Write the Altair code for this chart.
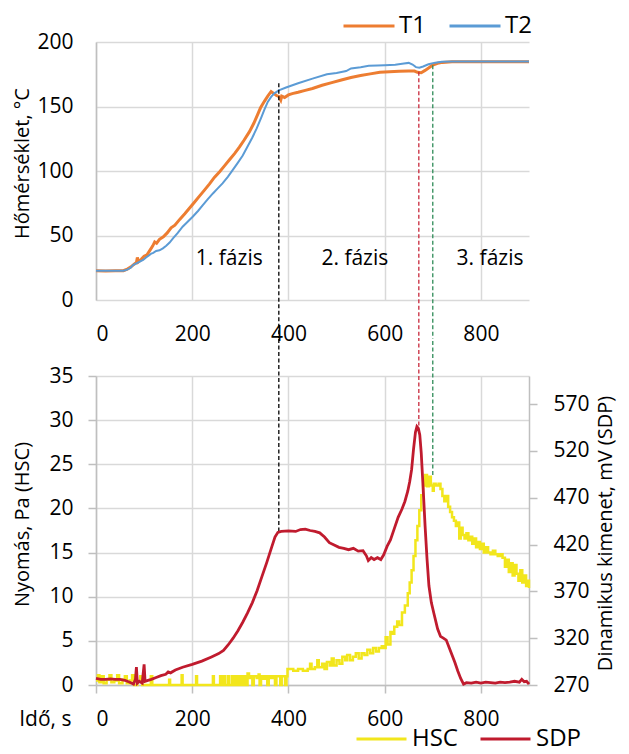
import altair as alt
import pandas as pd

# ---------------- data ----------------
t1_time = [0, 20, 40, 57, 65, 72, 80, 84, 86, 88, 94, 100, 106, 112, 118, 122, 126, 132, 140, 148, 156,
           164, 174, 185, 195, 205, 215, 225, 236, 246, 257, 267, 277, 288, 298, 308, 319, 328, 335,
           342, 350, 357, 364, 370, 375, 380, 384, 386, 392, 400, 408, 420, 435, 450, 470, 490, 510,
           530, 550, 570, 590, 610, 630, 650, 662, 668, 676, 684, 692, 700, 710, 720, 740, 900]
t1_temp = [22.7, 22.5, 22.6, 22.7, 24, 25.5, 28, 29, 33, 29.5, 31.5, 34, 35, 38.5, 42, 45, 44, 47, 49, 52,
           56, 58, 62.5, 67, 71.5, 76, 80.5, 85, 90, 95, 99.5, 104, 108.5, 113.5, 118.5, 124, 130.5, 137,
           143, 149, 154, 158, 161.5, 160, 158.5, 157.8, 155, 158, 157, 159, 160, 161, 162.5, 164, 166.5,
           168.5, 170.5, 172.5, 174, 175.3, 176.5, 177, 177.3, 177.6, 177.5, 176.5, 176.2, 178, 180,
           182.2, 183.5, 184.2, 184.6, 184.6]

t2_time = [0, 57, 65, 72, 77, 85, 92, 98, 104, 110, 115, 119, 125, 132, 139, 146, 153, 160, 170, 180,
           190, 201, 212, 222, 232, 243, 253, 263, 274, 284, 295, 305, 315, 325, 334, 343, 350, 357,
           364, 370, 380, 395, 420, 450, 480, 500, 520, 530, 550, 567, 585, 600, 622, 640, 650, 658,
           665, 672, 680, 691, 705, 719, 740, 900]
t2_temp = [22.7, 22.7, 23.5, 25, 27, 28.5, 30, 31, 33, 34.5, 36, 36.5, 38, 38.5, 40, 42, 44.5, 47.8, 52,
           56.8, 60.5, 64.5, 69, 73.6, 78, 82.6, 86.5, 90.4, 95.5, 100.7, 106.5, 112, 119, 126, 133,
           141, 147.5, 153.6, 157.5, 160, 162.5, 164.7, 168, 171.6, 175, 176, 177.5, 179.5, 180.5,
           181.5, 181.8, 182, 182.3, 183.3, 183.8, 182.5, 180.5, 180, 181, 182.7, 184, 184.6, 184.8, 184.8]

hsc_time = [0, 4, 7, 12, 16, 22, 28, 32, 38, 44, 48, 55, 60, 64, 70, 75, 79, 86, 92, 96, 114, 117, 152,
            154, 178, 180, 208, 210, 243, 245, 258, 261, 265, 268, 274, 277, 283, 286, 290, 293, 296,
            299, 303, 305, 310, 312, 315, 318, 322, 325, 328, 334, 338, 340, 343, 348, 352, 356, 359,
            364, 368, 372, 375, 383, 386, 393, 396, 398, 410, 420, 430, 440, 445, 448, 455, 460, 463,
            470, 475, 480, 486, 490, 494, 500, 506, 512, 518, 522, 528, 534, 540, 546, 552, 558, 564,
            570, 576, 582, 588, 594, 598, 602, 606, 612, 616, 620, 626, 630, 636, 642, 648, 652, 656,
            660, 664, 668, 672, 676, 680, 684, 688, 692, 696, 700, 702, 706, 712, 716, 720, 724, 728,
            732, 736, 740, 744, 748, 752, 755, 758, 762, 766, 770, 774, 778, 782, 786, 790, 794, 798,
            802, 806, 810, 815, 820, 825, 830, 835, 840, 845, 850, 854, 858, 862, 866, 870, 874, 878,
            882, 886, 890, 894, 898, 900]
hsc_pa = [0.5, 1.1, 0.3, 1.0, 0.2, 0.6, 1.1, 0.3, 0.5, 1.1, 0.2, 0.6, 1.0, 0.2, 0.5, 1.1, 0, 0.4, 1.0,
          0, 1.0, 0, 0.6, 0, 1.1, 0, 1.0, 0, 1.0, 0, 1.0, 0, 1.0, 0, 1.0, 0, 1.0, 0, 1.0, 0, 1.0, 0, 1.0,
          0, 1.0, 0, 1.3, 0.8, 1.0, 0, 1.0, 0.8, 1.2, 0, 1.0, 0.7, 1.0, 0, 1.0, 0.8, 1.0, 0, 1.0, 0, 1.0,
          0, 1.0, 1.8, 1.6, 1.8, 1.6, 1.8, 2.4, 1.8, 2.0, 2.8, 2.0, 2.4, 1.8, 2.6, 2.2, 3.0, 2.2, 2.8,
          2.4, 3.2, 2.8, 3.4, 2.8, 3.2, 3.6, 3.0, 3.6, 3.4, 4.0, 3.6, 4.2, 3.8, 4.2, 4.4, 4.2, 5.4, 4.6,
          6.0, 5.8, 6.6, 7.2, 6.8, 8.2, 9.0, 10.4, 11.6, 13.0, 14.6, 16.4, 18.0, 19.8, 21.5, 22.6, 23.8,
          22.5, 23.6, 22.6, 22.0, 22.8, 22.6, 22.8, 22.2, 21.4, 20.8, 21.4, 20.2, 19.6, 19.0, 18.6,
          18.0, 18.4, 16.6, 17.8, 17.0, 16.6, 17.2, 16.4, 16.8, 16.0, 16.6, 15.6, 16.2, 15.4, 16.0,
          15.0, 15.6, 15.0, 14.8, 15.2, 14.8, 14.6, 14.8, 14.4, 13.4, 14.2, 12.8, 13.8, 12.4, 13.6,
          12.6, 11.8, 13.0, 11.6, 12.4, 11.2, 11.8, 11.0]

sdp_time = [0, 10, 20, 30, 40, 50, 60, 70, 78, 82, 84, 86, 90, 96, 100, 102, 108, 115, 125, 135, 145,
            150, 155, 165, 180, 200, 220, 240, 255, 265, 275, 285, 295, 305, 315, 325, 335, 345, 355,
            365, 372, 378, 385, 400, 415, 425, 435, 445, 455, 465, 475, 485, 495, 505, 515, 525, 535,
            545, 555, 562, 566, 572, 578, 585, 592, 598, 605, 612, 620, 628, 636, 642, 648, 652, 656,
            660, 664, 667, 670, 673, 676, 680, 684, 688, 692, 697, 703, 710, 716, 722, 728, 734, 740,
            746, 752, 758, 764, 770, 780, 790, 800, 810, 820, 830, 840, 850, 860, 870, 880, 885, 890,
            895, 900]
sdp_mv = [277, 276, 276, 276.5, 276, 276, 275, 273, 271, 276, 289, 272, 274, 272, 292, 274, 275, 276,
          278, 280, 281.5, 284, 283, 286, 289, 292, 295.5, 300, 303.5, 307, 313, 320, 328, 337, 347,
          358, 371, 386, 401, 417, 428, 433, 434, 434.5, 434, 436, 436.5, 435, 434, 432.5, 428, 422,
          419.5, 417, 416, 414.5, 416, 413, 413.5, 408, 403, 406, 404, 406, 404, 409, 418, 425, 437,
          449, 458, 466, 477, 487, 500, 522, 540, 546, 544, 537, 518, 480, 440, 405, 376, 358, 345,
          330, 322, 320, 318, 310, 302, 294, 285, 277, 271, 272.5, 272, 273, 272, 273, 272.5, 272, 273,
          272.5, 273, 274, 273, 276, 273.5, 274, 271]

phase_labels = ["1. fázis", "2. fázis", "3. fázis"]
phase_time = [277, 538, 819]
phase_temp = [27, 27, 27]

marker_time = [380, 671, 700]
marker_temp_top = [168, 177, 182]
marker_pa_bottom = [17.4, 29.4, 23.8]

x_ticks = [0, 200, 400, 600, 800]
temp_ticks = [0, 50, 100, 150, 200]
pa_ticks = [0, 5, 10, 15, 20, 25, 30, 35]
mv_ticks = [270, 320, 370, 420, 470, 520, 570]

# ---------------- styles ----------------
FONT = "Open Sans"
GRID = "#d9d9d9"
AXISC = "#bfbfbf"
marker_colors = ["#000000", "#C8283C", "#2E8B57"]
TOP_W, TOP_H = 433, 258
BOT_W, BOT_H = 433, 309
GAP = 76

# ---------------- top chart ----------------
temp_df = pd.concat([
    pd.DataFrame({"t": t1_time, "T": t1_temp, "s": "T1"}),
    pd.DataFrame({"t": t2_time, "T": t2_temp, "s": "T2"}),
])

x_top = alt.X("t:Q", scale=alt.Scale(domain=[0, 900], nice=False, zero=False),
              axis=alt.Axis(values=x_ticks, title=None, grid=True, gridColor=GRID, gridWidth=1.5,
                            ticks=False, domain=False, labelPadding=23, labelFont=FONT,
                            labelFontSize=21, labelColor="black"))
y_top = alt.Y("T:Q", scale=alt.Scale(domain=[0, 200], nice=False),
              axis=alt.Axis(values=temp_ticks, title="Hőmérséklet, °C", titleFont=FONT,
                            titleFontSize=20, titleFontWeight="normal", titleColor="black",
                            titleAngle=270, titleAlign="center", titleBaseline="alphabetic",
                            titleX=-68, titleY=121, grid=True, gridColor=GRID, gridWidth=1.5,
                            ticks=False, domain=True, domainColor=AXISC, domainWidth=1.5,
                            labelPadding=23, labelFont=FONT, labelFontSize=21, labelColor="black"))
color_top = alt.Color("s:N", scale=alt.Scale(domain=["T1", "T2"], range=["#ED7D31", "#5B9BD5"]),
                      legend=alt.Legend(title=None, orient="none", legendX=246, legendY=-28,
                                        direction="horizontal", symbolType="stroke",
                                        symbolSize=2601, symbolStrokeWidth=3, clipHeight=24,
                                        labelOffset=3, columnPadding=22, padding=0, labelFont=FONT,
                                        labelFontSize=24, labelColor="black"))

base_top = alt.Chart(temp_df)
t1_line = base_top.transform_filter(alt.datum.s == "T1").mark_line(strokeWidth=3).encode(
    x=x_top, y=y_top, color=color_top)
t2_line = base_top.transform_filter(alt.datum.s == "T2").mark_line(strokeWidth=2).encode(
    x=x_top, y=y_top, color=color_top)

top_rules = []
for i in range(len(marker_time)):
    top_rules.append(
        alt.Chart(pd.DataFrame({"t": [marker_time[i]], "T": [marker_temp_top[i]]}))
        .mark_rule(color=marker_colors[i], strokeDash=[4, 2.5], strokeWidth=1.3)
        .encode(x=x_top, y=y_top, y2=alt.value(TOP_H + GAP / 2))
    )

phase_df = pd.DataFrame({"t": phase_time, "T": phase_temp, "label": phase_labels})
phase_text = alt.Chart(phase_df).mark_text(font=FONT, fontSize=21, color="black",
                                           baseline="alphabetic", align="center").encode(
    x=x_top, y=y_top, text="label:N")

top = alt.layer(t1_line, t2_line, *top_rules, phase_text).properties(width=TOP_W, height=TOP_H)

# ---------------- bottom chart ----------------
hsc_df = pd.DataFrame({"t": hsc_time, "P": hsc_pa, "k": "HSC"})
sdp_df = pd.DataFrame({"t": sdp_time, "V": sdp_mv, "k": "SDP"})

x_bot = alt.X("t:Q", scale=alt.Scale(domain=[0, 900], nice=False, zero=False),
              axis=alt.Axis(values=x_ticks, title="Idő, s", titleFont=FONT, titleFontSize=21,
                            titleFontWeight="normal", titleColor="black", titleAlign="right",
                            titleBaseline="top", titleX=-25, titleY=23, grid=True, gridColor=GRID,
                            gridWidth=1.5, ticks=True, tickSize=8, tickColor=AXISC, tickWidth=1.5,
                            domain=True, domainColor=AXISC, domainWidth=1.5, labelPadding=15,
                            labelFont=FONT, labelFontSize=21, labelColor="black"))
y_left = alt.Y("P:Q", scale=alt.Scale(domain=[0, 35], nice=False),
               axis=alt.Axis(orient="left", values=pa_ticks, title="Nyomás, Pa (HSC)", titleFont=FONT,
                             titleFontSize=20, titleFontWeight="normal", titleColor="black",
                             titleAngle=270, titleAlign="center", titleBaseline="alphabetic",
                             titleX=-68, titleY=148, grid=True, gridColor=GRID, gridWidth=1.5,
                             ticks=True, tickSize=8, tickColor=AXISC, tickWidth=1.5, domain=True,
                             domainColor=AXISC, domainWidth=1.5, labelPadding=15, labelFont=FONT,
                             labelFontSize=21, labelColor="black"))
y_right = alt.Y("V:Q", scale=alt.Scale(domain=[270, 600], nice=False, zero=False),
                axis=alt.Axis(orient="right", values=mv_ticks, title="Dinamikus kimenet, mV (SDP)",
                              titleFont=FONT, titleFontSize=20, titleFontWeight="normal",
                              titleColor="black", titleAngle=270, titleAlign="center",
                              titleBaseline="alphabetic", titleX=82, titleY=157, grid=False,
                              ticks=True, tickSize=8, tickColor=AXISC, tickWidth=1.5, domain=True,
                              domainColor=AXISC, domainWidth=1.5, labelPadding=16, labelFont=FONT,
                              labelFontSize=21, labelColor="black"))
color_bot = alt.Color("k:N", scale=alt.Scale(domain=["HSC", "SDP"], range=["#F2E61C", "#C01B2E"]),
                      legend=alt.Legend(title=None, orient="none", legendX=259, legendY=351,
                                        direction="horizontal", symbolType="stroke",
                                        symbolSize=2500, symbolStrokeWidth=3, clipHeight=24,
                                        labelOffset=4, columnPadding=21, padding=0, labelFont=FONT,
                                        labelFontSize=24, labelColor="black"))

hsc_line = alt.Chart(hsc_df).mark_line(strokeWidth=2.5, interpolate="step-after").encode(
    x=x_bot, y=y_left, color=color_bot)
sdp_line = alt.Chart(sdp_df).mark_line(strokeWidth=2.8).encode(
    x=x_bot, y=y_right, color=color_bot)

bot_rules = []
for i in range(len(marker_time)):
    bot_rules.append(
        alt.Chart(pd.DataFrame({"t": [marker_time[i]], "P": [marker_pa_bottom[i]]}))
        .mark_rule(color=marker_colors[i], strokeDash=[4, 2.5], strokeWidth=1.3)
        .encode(x=x_bot, y=y_left, y2=alt.value(-GAP / 2))
    )

left_layer = alt.layer(hsc_line, *bot_rules)
bottom = alt.layer(left_layer, sdp_line).resolve_scale(y="independent").properties(
    width=BOT_W, height=BOT_H)

chart = alt.vconcat(top, bottom, spacing=GAP, bounds="flush",
                    padding={"left": 4, "top": 6, "right": 4, "bottom": 5}).resolve_scale(
    color="independent", x="independent").resolve_legend(color="independent").configure_view(
    strokeWidth=0)

chart.save("out.html", embed_options={"renderer": "svg", "actions": False})
